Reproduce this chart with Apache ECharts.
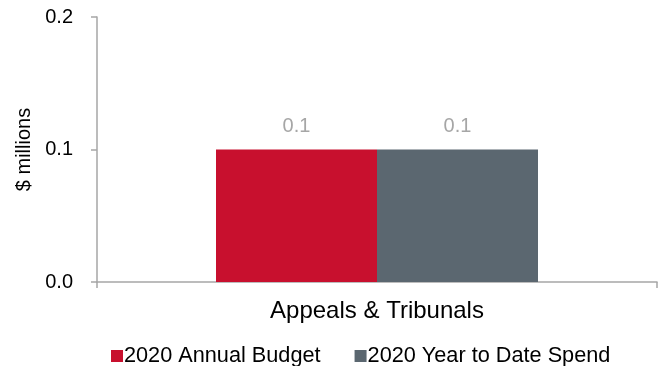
<!DOCTYPE html>
<html><head><meta charset="utf-8">
<script src="https://cdn.jsdelivr.net/npm/echarts@6/dist/echarts.min.js"></script>
<style>html,body{margin:0;padding:0;background:#fff}#c{width:665px;height:366px}</style>
</head><body><div id="c"></div>
<script>
const categories = ['Appeals & Tribunals'];
const seriesNames = ['2020 Annual Budget', '2020 Year to Date Spend'];
const budget = [0.1];
const spend = [0.1];
const yTicks = [0, 0.1, 0.2];

const font = 'Liberation Sans, Arial, sans-serif';
const chart = echarts.init(document.getElementById('c'));
chart.setOption({
  animation: false,
  grid: {left: 97, right: 8, top: 17, bottom: 84},
  legend: {
    top: 340, left: 106, itemWidth: 12, itemHeight: 12, itemGap: 34,
    icon: 'rect',
    textStyle: {fontFamily: font, fontSize: 21.7, color: '#000', padding: [0,0,0,-4]},
    data: seriesNames
  },
  xAxis: {
    type: 'category', data: categories,
    axisLine: {lineStyle: {color: '#a6a6a6', width: 1.5}},
    axisTick: {show: true, length: 6, lineStyle: {color: '#a6a6a6', width: 1.5}},
    axisLabel: {fontFamily: font, fontSize: 24, color: '#000', margin: 17}
  },
  yAxis: {
    type: 'value', min: yTicks[0], max: yTicks[yTicks.length-1], interval: 0.1,
    name: '$ millions', nameLocation: 'middle', nameGap: 61, nameRotate: 90,
    nameTextStyle: {fontFamily: font, fontSize: 20, color: '#000'},
    axisLine: {show: true, lineStyle: {color: '#a6a6a6', width: 1.5}},
    axisTick: {show: true, length: 6, lineStyle: {color: '#a6a6a6', width: 1.5}},
    splitLine: {show: false},
    axisLabel: {fontFamily: font, fontSize: 20, color: '#000', margin: 24,
      formatter: v => v.toFixed(1)}
  },
  series: [
    {name: seriesNames[0], type: 'bar', data: budget, barGap: '0%', barCategoryGap: '42.5%',
     itemStyle: {color: '#C8102E'},
     label: {show: true, position: 'top', distance: 13, fontFamily: font, fontSize: 20, color: '#a6a6a6',
       formatter: p => p.value.toFixed(1)}},
    {name: seriesNames[1], type: 'bar', data: spend, barGap: '0%', barCategoryGap: '42.5%',
     itemStyle: {color: '#5B6770'},
     label: {show: true, position: 'top', distance: 13, fontFamily: font, fontSize: 20, color: '#a6a6a6',
       formatter: p => p.value.toFixed(1)}}
  ]
});
</script></body></html>
